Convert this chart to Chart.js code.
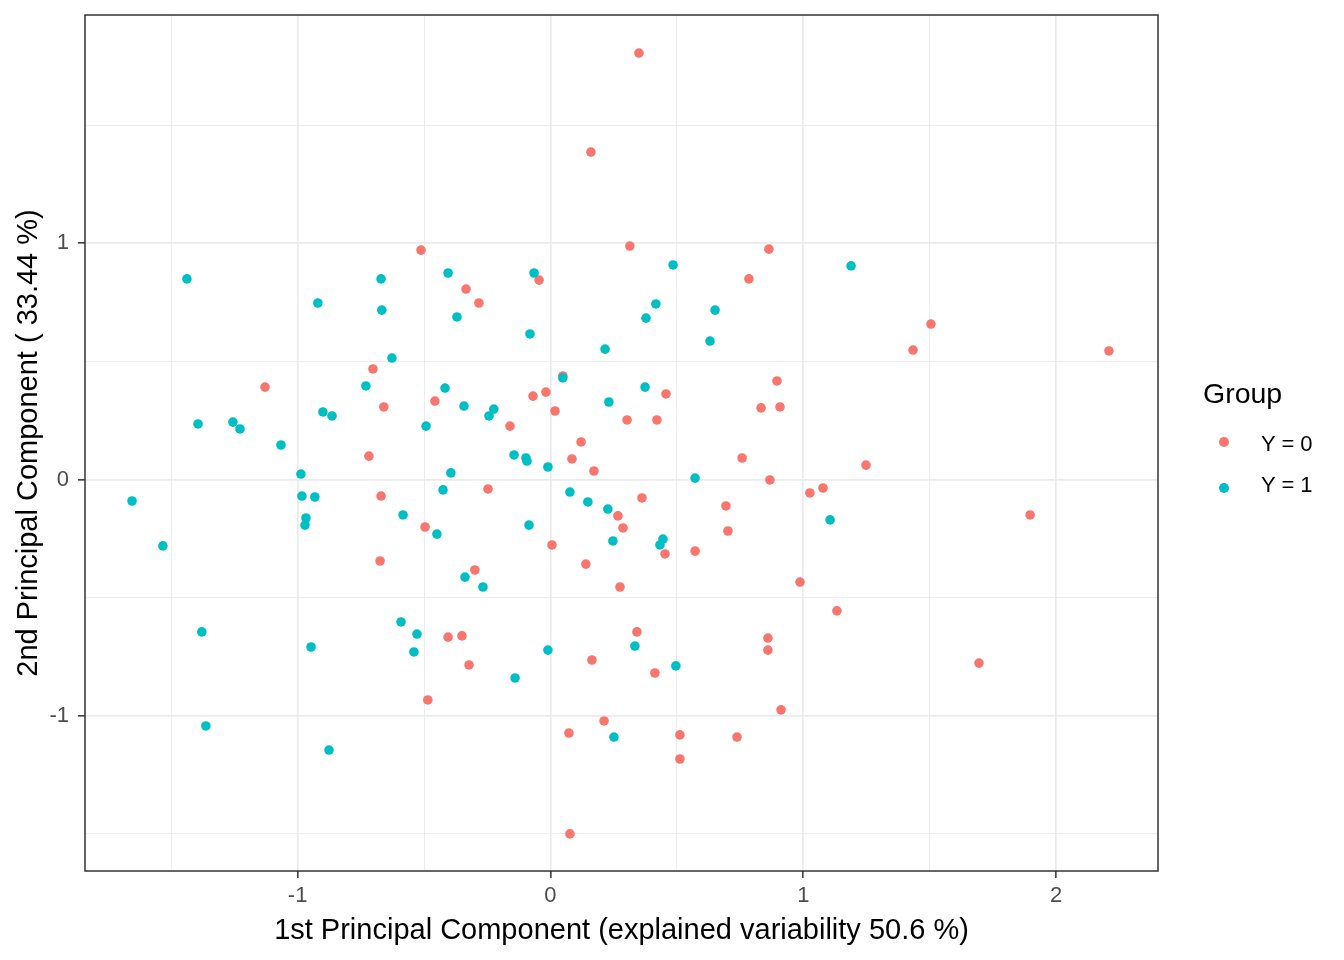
<!DOCTYPE html>
<html>
<head>
<meta charset="utf-8">
<title>PCA scores by group</title>
<script src="https://cdn.jsdelivr.net/npm/chart.js@4.4.1/dist/chart.umd.min.js"></script>
<style>
  body { margin: 0; background: #fff; }
  #wrap { position: relative; width: 1344px; height: 960px; font-family: "Liberation Sans", Arial, sans-serif; }
  .lg-title { position: absolute; left: 1203px; top: 379px; font-size: 28.5px; line-height: 28px; color: #000; }
  .lg-item { position: absolute; left: 1261px; font-size: 22px; line-height: 22px; color: #000; }
  .lg-dot { position: absolute; left: 1219px; width: 10px; height: 10px; border-radius: 50%; }
</style>
</head>
<body>
<div id="wrap">
  <canvas id="pca" width="1344" height="960"></canvas>
  <div id="legend"></div>
</div>
<script>
// scores, one pair of arrays per group
const X0 = [0.350, 0.160, -0.512, 0.314, 0.864, -0.045, -0.334, -0.283, 0.785, 1.505,
  1.434, 2.209, -1.129, -0.702, -0.659, -0.457, -0.069, -0.018, 0.049, 0.018,
  0.457, 0.303, 0.421, 0.896, 0.833, 0.908, -0.160, 0.121, 0.085, 0.172,
  -0.718, 0.758, 1.248, -0.247, -0.670, 0.362, 0.868, 1.026, 1.078, 0.694,
  1.897, 0.267, 0.287, -0.496, 0.702, 0.006, -0.674, 0.453, 0.572, -0.299,
  0.140, 0.275, 0.987, 1.133, 0.342, -0.405, -0.350, 0.860, 0.860, -0.322,
  0.164, 0.413, 1.695, -0.485, 0.912, 0.212, 0.073, 0.512, 0.738, 0.512, 0.077];
const Y0 = [1.805, 1.386, 0.971, 0.988, 0.975, 0.844, 0.806, 0.747, 0.849, 0.658,
  0.548, 0.544, 0.391, 0.468, 0.307, 0.332, 0.353, 0.370, 0.438, 0.290,
  0.362, 0.252, 0.252, 0.417, 0.303, 0.307, 0.226, 0.159, 0.087, 0.036,
  0.099, 0.091, 0.061, -0.040, -0.070, -0.078, -0.002, -0.057, -0.036, -0.112,
  -0.150, -0.154, -0.205, -0.201, -0.218, -0.277, -0.345, -0.315, -0.303, -0.383,
  -0.358, -0.455, -0.434, -0.556, -0.645, -0.667, -0.662, -0.671, -0.722, -0.785,
  -0.764, -0.819, -0.777, -0.933, -0.975, -1.022, -1.073, -1.081, -1.090, -1.183, -1.500];

const X1 = [-1.655, -1.533, -1.438, -1.394, -1.379, -1.363, -1.256, -1.228, -1.066, -0.987,
  -0.983, -0.967, -0.971, -0.932, -0.947, -0.920, -0.900, -0.864, -0.876, -0.730,
  -0.670, -0.667, -0.627, -0.583, -0.591, -0.528, -0.540, -0.492, -0.449, -0.425,
  -0.417, -0.405, -0.394, -0.370, -0.342, -0.338, -0.267, -0.243, -0.224, -0.144,
  -0.140, -0.097, -0.093, -0.085, -0.081, -0.065, -0.010, -0.010, 0.049, 0.077,
  0.148, 0.216, 0.231, 0.227, 0.247, 0.251, 0.334, 0.374, 0.378, 0.417,
  0.433, 0.445, 0.485, 0.496, 0.572, 0.631, 0.651, 1.106, 1.189];
const Y1 = [-0.091, -0.281, 0.849, 0.235, -0.645, -1.043, 0.243, 0.214, 0.146, 0.023,
  -0.070, -0.163, -0.193, -0.074, -0.709, 0.747, 0.286, 0.269, -1.145, 0.396,
  0.849, 0.717, 0.514, -0.150, -0.603, -0.654, -0.730, 0.226, -0.231, -0.044,
  0.387, 0.874, 0.028, 0.688, 0.311, -0.413, -0.455, 0.269, 0.298, 0.104,
  -0.840, 0.091, 0.078, -0.193, 0.616, 0.874, 0.053, -0.722, 0.430, -0.053,
  -0.095, 0.552, 0.328, -0.125, -0.260, -1.090, -0.705, 0.391, 0.683, 0.743,
  -0.277, -0.252, 0.908, -0.789, 0.006, 0.586, 0.717, -0.171, 0.904];

const GROUPS = ['Y = 0', 'Y = 1'];
const COLORS = ['#F8766D', '#00BFC4'];
const X_TICKS = [-1.5, -1, -0.5, 0, 0.5, 1, 1.5, 2];
const Y_TICKS = [-1.5, -1, -0.5, 0, 0.5, 1, 1.5];
const X_TITLE = '1st Principal Component (explained variability 50.6 %)';
const Y_TITLE = '2nd Principal Component ( 33.44 %)';

Chart.defaults.font.family = '"Liberation Sans", Arial, sans-serif';

const pts = (xs, ys) => xs.map((x, i) => ({ x, y: ys[i] }));

// integer ticks get a label and a dark tick mark, half steps are minor grid only
const isMajor = v => Number.isInteger(v);
const axisGrid = {
  color: '#EBEBEB',
  lineWidth: c => isMajor(c.tick.value) ? 1.7 : 0.9,
  tickLength: 7,
  tickWidth: 1.5,
  tickColor: c => isMajor(c.tick.value) ? '#333333' : 'rgba(0,0,0,0)',
};

// ggplot-style panel border drawn over the points
const panelBorder = {
  id: 'panelBorder',
  afterDatasetsDraw(chart) {
    const { ctx, chartArea: a } = chart;
    ctx.save();
    ctx.strokeStyle = '#333333';
    ctx.lineWidth = 1.5;
    ctx.strokeRect(a.left, a.top, a.right - a.left, a.bottom - a.top);
    ctx.restore();
  }
};

new Chart(document.getElementById('pca'), {
  type: 'scatter',
  data: {
    datasets: [
      { label: GROUPS[0], data: pts(X0, Y0), backgroundColor: COLORS[0], order: 2 },
      { label: GROUPS[1], data: pts(X1, Y1), backgroundColor: COLORS[1], order: 1 },
    ]
  },
  options: {
    responsive: false,
    devicePixelRatio: 1,
    animation: false,
    layout: { padding: { top: 15, right: 186, bottom: 0, left: 0 } },
    elements: { point: { radius: 4.8, borderWidth: 0, hoverRadius: 4.8 } },
    plugins: { legend: { display: false }, tooltip: { enabled: false } },
    scales: {
      x: {
        type: 'linear', min: -1.841, max: 2.403,
        afterBuildTicks: s => { s.ticks = X_TICKS.map(value => ({ value })); },
        afterFit: s => { s.height = 89; s.paddingLeft = 0; s.paddingRight = 0; },
        grid: axisGrid,
        border: { display: false },
        ticks: {
          padding: 5, color: '#4D4D4D', font: { size: 22 }, maxRotation: 0, autoSkip: false,
          callback: v => isMajor(v) ? String(v) : '',
        },
        title: { display: true, text: X_TITLE, color: '#000', font: { size: 29 }, padding: { top: 0, bottom: 12 } },
      },
      y: {
        type: 'linear', min: -1.657, max: 1.966,
        afterBuildTicks: s => { s.ticks = Y_TICKS.map(value => ({ value })); },
        afterFit: s => { s.width = 85; s.paddingTop = 0; s.paddingBottom = 0; },
        grid: axisGrid,
        border: { display: false },
        ticks: {
          padding: 9, color: '#4D4D4D', font: { size: 22 }, autoSkip: false,
          callback: v => isMajor(v) ? String(v) : '',
        },
        title: { display: true, text: Y_TITLE, color: '#000', font: { size: 29 }, padding: { top: 12, bottom: 0 } },
      }
    }
  },
  plugins: [panelBorder]
});

// legend beside the panel, like the ggplot guide
document.getElementById('legend').innerHTML =
  '<div class="lg-title">Group</div>' +
  GROUPS.map((g, i) =>
    `<span class="lg-dot" style="top:${437 + i * 46}px;background:${COLORS[i]}"></span>` +
    `<div class="lg-item" style="top:${433 + i * 41}px">${g}</div>`).join('');
</script>
</body>
</html>
